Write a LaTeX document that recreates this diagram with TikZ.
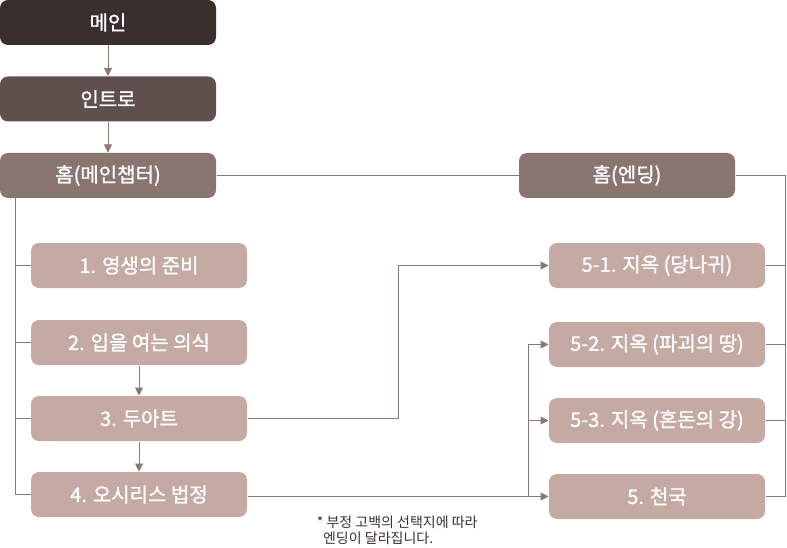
\documentclass[tikz,border=0pt]{standalone}
\usepackage{fontspec}
\setmainfont{Noto Sans CJK KR}
\newfontfamily\boxfont{Noto Sans CJK KR}[FakeBold=1.2]
\usetikzlibrary{arrows.meta}
\definecolor{dark}{HTML}{3B2F2E}
\definecolor{mid}{HTML}{5F4F4D}
\definecolor{home}{HTML}{8A7671}
\definecolor{light}{HTML}{C4AAA3}
\definecolor{wire}{HTML}{8C7873}
\tikzset{
	box/.style={rounded corners=8pt, minimum width=216pt, minimum height=45pt, inner sep=0pt, text=white, font=\boxfont\fontsize{20}{22}\selectfont},
}

\begin{document}
\begin{tikzpicture}[x=1pt, y=-1pt, >={Triangle[length=8pt,width=8pt]}, line width=1pt]
	\useasboundingbox (0,0) rectangle (787,548);
	\def \xL {108}
	\def \xM {139}
	\def \xR {657}
	\node[box, fill=dark] (main) at (\xL,22.5) {메인};
	\node[box, fill=mid] (intro) at (\xL,99) {인트로};
	\node[box, fill=home] (home) at (\xL,175.5) {홈(메인챕터)};
	\node[box, fill=home] (end) at (627,175.5) {홈(엔딩)};
	\node[box, fill=light] (c1) at (\xM,265.5) {1. 영생의 준비};
	\node[box, fill=light] (c2) at (\xM,342.5) {2. 입을 여는 의식};
	\node[box, fill=light] (c3) at (\xM,418.5) {3. 두아트};
	\node[box, fill=light] (c4) at (\xM,494.5) {4. 오시리스 법정};
	\node[box, fill=light] (e1) at (\xR,265.5) {5-1. 지옥 (당나귀)};
	\node[box, fill=light] (e2) at (\xR,344.5) {5-2. 지옥 (파괴의 땅)};
	\node[box, fill=light] (e3) at (\xR,420.5) {5-3. 지옥 (혼돈의 강)};
	\node[box, fill=light] (e4) at (\xR,496.5) {5. 천국};
	\node[text=dark, align=left, anchor=west, font=\fontsize{14}{16}\selectfont] (note) at (313,530) {* 부정 고백의 선택지에 따라\\\ \ 엔딩이 달라집니다.};
	\coordinate (lbus) at (15,0);
	\coordinate (rbus) at (785,0);
	\coordinate (split) at (528,0);
	\begin{scope}[draw=wire]
	\draw[->] (main) -- (intro);
	\draw[->] (intro) -- (home);
	\draw (home) -- (end);
	\draw (home.south -| lbus) -- (c4.west -| lbus);
	\foreach \n in {c1,c2,c3,c4}
		\draw (\n.west -| lbus) -- (\n.west);
	\draw[->] (c2) -- (c3);
	\draw[->] (c3) -- (c4);
	\draw[->] (c3.east) -| (398,265.5) -- (e1.west);
	\draw[->] (c4.east |- e4.west) -- (e4.west);
	\draw (e4.west -| split) -- (e2.west -| split);
	\draw[->] (e2.west -| split) -- (e2.west);
	\draw[->] (e3.west -| split) -- (e3.west);
	\draw (end.east) -| (e4.east -| rbus);
	\foreach \n in {e1,e2,e3,e4}
		\draw (\n.east) -- (\n.east -| rbus);
	\end{scope}
\end{tikzpicture}
\end{document}
